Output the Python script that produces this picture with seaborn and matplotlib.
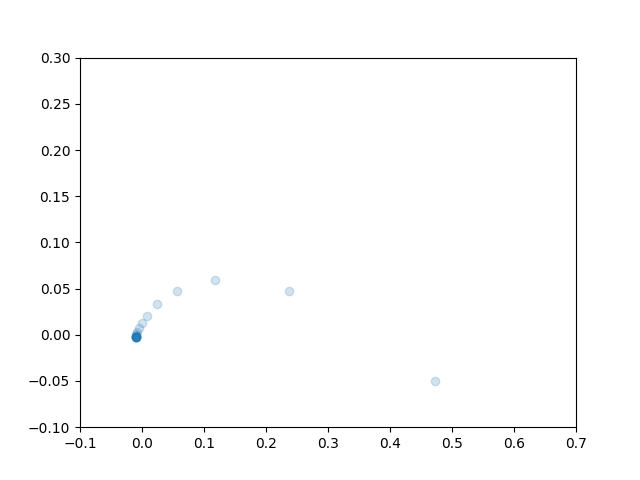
import matplotlib
matplotlib.use("Agg")
import matplotlib.pyplot as plt
import seaborn as sns
import pandas as pd

# iterates of the path (x, y), converging to a point near the origin
x_vals = [0.4726, 0.2376, 0.1182, 0.0569, 0.0247, 0.0085, 0.0005, -0.0048, -0.0076,
          -0.0089, -0.0094, -0.0096, -0.0097, -0.0097, -0.0097, -0.0097, -0.0097,
          -0.0097, -0.0097, -0.0097, -0.0097]
y_vals = [-0.0501, 0.0471, 0.0590, 0.0474, 0.0330, 0.0203, 0.0131, 0.0073, 0.0033,
          0.0008, -0.0010, -0.0016, -0.0019, -0.0020, -0.0021, -0.0021, -0.0021,
          -0.0021, -0.0021, -0.0021, -0.0021]

df = pd.DataFrame({"x": x_vals, "y": y_vals})

fig, ax = plt.subplots(figsize=(6.4, 4.8), dpi=100)
sns.scatterplot(data=df, x="x", y="y", ax=ax, color="C0", alpha=0.2,
                edgecolor="C0", linewidth=1, s=36)

ax.set_xlim(-0.1, 0.7)
ax.set_ylim(-0.1, 0.3)
ax.set_xlabel("")
ax.set_ylabel("")

fig.savefig("out.png", dpi=100)
